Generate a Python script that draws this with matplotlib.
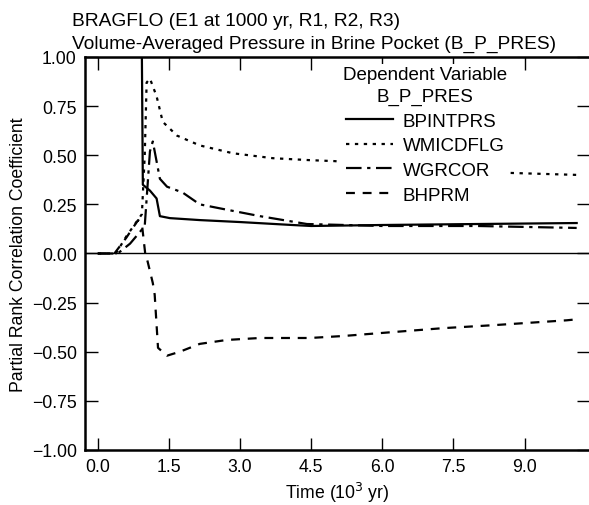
import matplotlib
matplotlib.use('Agg')
import matplotlib.pyplot as plt
from matplotlib.ticker import FuncFormatter
import numpy as np

plt.rcParams['font.family'] = ['Liberation Sans', 'DejaVu Sans']

# time in 10^3 yr, values are partial rank correlation coefficients
t_bpintprs = [0.0, 0.93, 0.95, 1.10, 1.24, 1.31, 1.52, 2.15, 3.0, 4.1, 4.5, 6.0, 8.0, 10.1]
v_bpintprs = [1.0, 1.0, 0.35, 0.32, 0.28, 0.19, 0.18, 0.17, 0.16, 0.145, 0.14, 0.145, 0.15, 0.155]

t_wmicdflg = [0.0, 0.38, 0.61, 0.93, 0.99, 1.03, 1.10, 1.24, 1.37, 1.67, 2.15, 2.85, 3.69, 4.47, 5.0, 6.5, 8.7, 10.1]
v_wmicdflg = [0.0, 0.0, 0.09, 0.20, 0.50, 0.87, 0.89, 0.80, 0.67, 0.60, 0.55, 0.51, 0.485, 0.475, 0.47, 0.44, 0.41, 0.40]

t_wgrcor = [0.0, 0.42, 0.68, 0.89, 0.99, 1.10, 1.16, 1.31, 1.46, 1.79, 2.15, 2.57, 3.42, 4.41, 6.0, 8.0, 10.1]
v_wgrcor = [0.0, 0.0, 0.05, 0.11, 0.14, 0.52, 0.57, 0.38, 0.34, 0.31, 0.25, 0.23, 0.19, 0.15, 0.14, 0.14, 0.13]

t_bhprm = [0.0, 0.35, 0.60, 0.85, 0.93, 1.00, 1.05, 1.16, 1.20, 1.27, 1.46, 1.73, 2.15, 2.72, 3.42, 4.47, 5.17, 6.22, 7.28, 8.33, 9.89, 10.1]
v_bhprm = [0.0, 0.0, 0.08, 0.17, 0.15, 0.0, -0.04, -0.15, -0.21, -0.48, -0.52, -0.50, -0.46, -0.44, -0.43, -0.43, -0.42, -0.40, -0.38, -0.365, -0.34, -0.335]

x_ticks = [0.0, 1.5, 3.0, 4.5, 6.0, 7.5, 9.0]
y_ticks = [-1.0, -0.75, -0.5, -0.25, 0.0, 0.25, 0.5, 0.75, 1.0]

fig = plt.figure(figsize=(5.89, 5.06), dpi=100)
ax = fig.add_axes([0.1443, 0.1087, 0.8557, 0.7767])

ax.plot(t_bpintprs, v_bpintprs, color='black', lw=1.6, ls='-', label='BPINTPRS')
ax.plot(t_wmicdflg, v_wmicdflg, color='black', lw=1.6, ls=(0, (1.5, 2.5)), label='WMICDFLG')
ax.plot(t_wgrcor, v_wgrcor, color='black', lw=1.6, ls=(0, (7, 2.5, 1.5, 2.5)), label='WGRCOR')
ax.plot(t_bhprm, v_bhprm, color='black', lw=1.6, ls=(0, (4, 3.5)), label='BHPRM')
ax.axhline(0, color='black', lw=1.0)

ax.set_xlim(-0.27, 10.36)
ax.set_ylim(-1.0, 1.0)
ax.set_xticks(x_ticks)
ax.set_yticks(y_ticks)
ax.xaxis.set_major_formatter(FuncFormatter(lambda v, p: f'{v:.1f}'.replace('-', '\u2212')))
ax.yaxis.set_major_formatter(FuncFormatter(lambda v, p: f'{v:.2f}'.replace('-', '\u2212')))
ax.tick_params(direction='in', length=9, width=1.0, labelsize=12.7,
               top=True, right=True, pad=6)
for side in ['left', 'bottom', 'top']:
    ax.spines[side].set_linewidth(1.8)
ax.spines['right'].set_visible(False)

ax.set_xlabel('Time (10$^3$ yr)', fontsize=12.7, labelpad=3)
ax.set_ylabel('Partial Rank Correlation Coefficient', fontsize=12.7, labelpad=3)

leg = ax.legend(title='Dependent Variable\nB_P_PRES', frameon=True, fontsize=13.5,
                title_fontsize=13.5, loc='upper left', bbox_to_anchor=(0.49, 1.005),
                handlelength=2.5, handletextpad=0.5, labelspacing=0.4,
                borderpad=0.1, fancybox=False)
leg.get_frame().set_facecolor('white')
leg.get_frame().set_edgecolor('none')
leg.get_frame().set_alpha(1.0)
leg.get_title().set_multialignment('center')
leg.get_title().set_linespacing(1.35)

fig.text(0.122, 0.957, 'BRAGFLO (E1 at 1000 yr, R1, R2, R3)', fontsize=13.8, va='center')
fig.text(0.122, 0.912, 'Volume-Averaged Pressure in Brine Pocket (B_P_PRES)', fontsize=13.8, va='center')

fig.savefig('out.png', dpi=100)
